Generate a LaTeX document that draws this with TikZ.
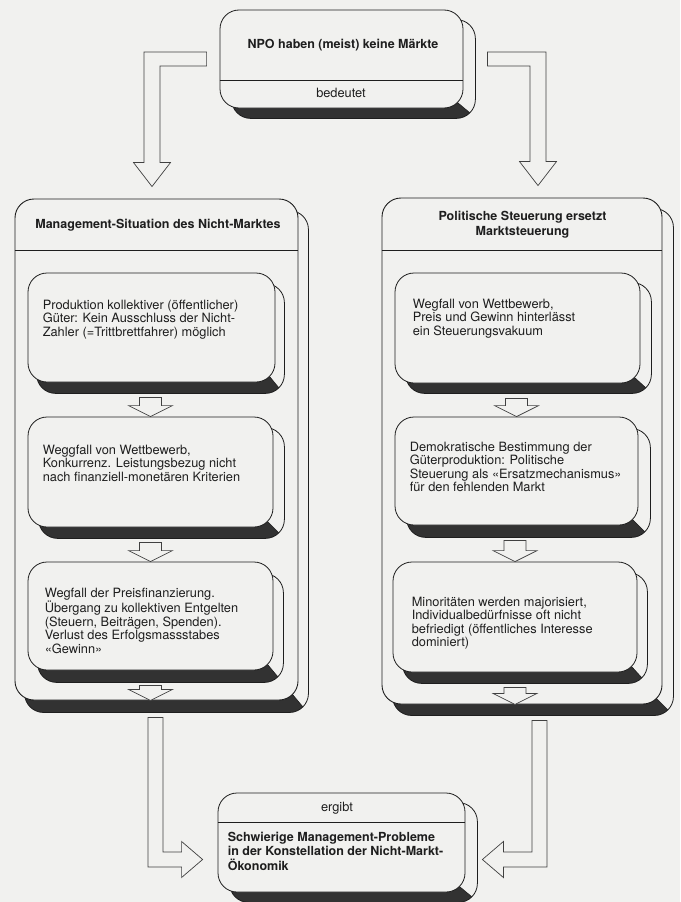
\documentclass[tikz,border=0pt]{standalone}
\usepackage{fontspec}
\setmainfont{TeX Gyre Heros}
\usetikzlibrary{positioning,calc}
\definecolor{paper}{RGB}{241,241,239}
\definecolor{ink}{RGB}{30,30,30}
\definecolor{band}{RGB}{50,50,50}
\pgfdeclarelayer{outerback}
\pgfdeclarelayer{outerfront}
\pgfdeclarelayer{innerback}
\pgfsetlayers{outerback,outerfront,innerback,main}
\tikzset{
  frame/.style={draw=ink, fill=paper, line width=0.8pt, rounded corners=19pt, inner sep=0pt},
  body/.style={anchor=north west, inner sep=0pt, align=left, text=ink, font=\fontsize{12.8}{13.5}\selectfont},
  head/.style={inner sep=0pt, align=center, text=ink, font=\bfseries\fontsize{12.5}{14.5}\selectfont},
  note/.style={inner sep=0pt, text=ink, font=\fontsize{12.8}{13.5}\selectfont},
  hollow/.style={draw=ink!85, fill=paper, line width=0.7pt, line join=miter},
  rim/.style={draw=ink, line width=0.8pt, rounded corners=19pt}
}
% back face of a box: node, dx, dy
\newcommand{\extrude}[3]{%
  \path[fill=paper, rounded corners=19pt] ([shift={(#2,#3)}]#1.north west) rectangle ([shift={(#2,#3)}]#1.south east);
  \begin{scope}
    \clip[rounded corners=19pt] ([shift={(#2,#3)}]#1.north west) rectangle ([shift={(#2,#3)}]#1.south east);
    \fill[band] ([shift={(0,-25)}]#1.south west) -- ([shift={(-5.6,-5.6)}]#1.south east)
      -- ([shift={(#2-5.6,#3-5.6)}]#1.south east) -- ([shift={(#2+5,#3+5)}]#1.south east)
      -- ([shift={(-5,#3+5)}]#1.south west) -- cycle;
  \end{scope}
  \path[rim] ([shift={(#2,#3)}]#1.north west) rectangle ([shift={(#2,#3)}]#1.south east);
  \draw[ink, line width=0.6pt] ([shift={(-5.6,-5.6)}]#1.south east) -- ([shift={(#2-5.6,#3-5.6)}]#1.south east);
}
% small hollow arrow from a box down to a point
\newcommand{\dropdown}[2]{%
  \coordinate (dd-tip) at (#2);
  \coordinate (dd-top) at (dd-tip |- #1.south);
  \draw[hollow] ($(dd-top)+(-11,15)$) -- ($(dd-tip)+(-11,-11)$) -- ($(dd-tip)+(-22,-11)$) -- (dd-tip)
    -- ($(dd-tip)+(22,-11)$) -- ($(dd-tip)+(11,-11)$) -- ($(dd-top)+(11,15)$) -- cycle;
}
\begin{document}
\begin{tikzpicture}[x=1pt, y=-1pt]
\useasboundingbox (0,0) rectangle (680,902);
\begin{pgfonlayer}{outerback}
  \fill[paper] (0,0) rectangle (680,902);
\end{pgfonlayer}

% large frames
\begin{pgfonlayer}{outerfront}
  \node[frame, line width=0.9pt, minimum width=283pt, minimum height=501pt] (BL) at (156.5,449.5) {};
  \node[frame, line width=0.9pt, minimum width=280pt, minimum height=506pt] (BR) at (522,451) {};
\end{pgfonlayer}
\begin{pgfonlayer}{outerback}
  \extrude{BL}{10}{12}
  \extrude{BR}{11}{11}
\end{pgfonlayer}

% boxes
\node[frame, minimum width=243pt, minimum height=98pt] (T) at (341.5,59) {};
\node[frame, minimum width=247pt, minimum height=109pt] (L1) at (151.5,327.5) {};
\node[frame, minimum width=245pt, minimum height=110pt] (L2) at (150.5,472) {};
\node[frame, minimum width=245pt, minimum height=108pt] (L3) at (150.5,616) {};
\node[frame, minimum width=245pt, minimum height=110pt] (R1) at (517.5,328) {};
\node[frame, minimum width=243pt, minimum height=108pt] (R2) at (516.5,471) {};
\node[frame, minimum width=244pt, minimum height=110pt] (R3) at (515,617) {};
\node[frame, minimum width=247pt, minimum height=99pt] (E) at (341.5,842.5) {};
\begin{pgfonlayer}{innerback}
  \extrude{T}{12}{10}
  \extrude{L1}{9}{11}
  \extrude{L2}{11}{11}
  \extrude{L3}{10}{12}
  \extrude{R1}{11}{10}
  \extrude{R2}{12}{12}
  \extrude{R3}{10}{11}
  \extrude{E}{12}{10}
\end{pgfonlayer}

% dividers
\coordinate (Tdiv) at (0,80);
\coordinate (BLdiv) at (0,250);
\coordinate (BRdiv) at (0,250);
\coordinate (Ediv) at (0,822);
\draw[ink, line width=0.8pt] (T.west |- Tdiv) -- (T.east |- Tdiv);
\draw[ink, line width=0.8pt] (BL.west |- BLdiv) -- (BL.east |- BLdiv);
\draw[ink, line width=0.8pt] (BR.west |- BRdiv) -- (BR.east |- BRdiv);
\draw[ink, line width=0.8pt] (E.west |- Ediv) -- (E.east |- Ediv);

% titles
\node[head] (Ttitle) at (343,45) {NPO haben (meist) keine Märkte};
\node[note] (Tverb) at (341,93) {bedeutet};
\node[head] (BLtitle) at (158,225) {Management-Situation des Nicht-Marktes};
\node[head] (BRtitle) at (522.5,224.5) {Politische Steuerung ersetzt\\Marktsteuerung};
\node[note] (Everb) at (337,808) {ergibt};

% texts
\node[body, below right=27pt and 15pt of L1.north west] (L1t) {Produktion kollektiver (öffentlicher)\\Güter: Kein Ausschluss der Nicht-\\Zahler (=Trittbrettfahrer) möglich};
\node[body, below right=28pt and 15pt of L2.north west] (L2t) {Weggfall von Wettbewerb,\\Konkurrenz. Leistungsbezug nicht\\nach finanziell-monetären Kriterien};
\node[body, below right=26pt and 17pt of L3.north west] (L3t) {Wegfall der Preisfinanzierung.\\Übergang zu kollektiven Entgelten\\(Steuern, Beiträgen, Spenden).\\Verlust des Erfolgsmassstabes\\«Gewinn»};
\node[body, below right=26pt and 18pt of R1.north west] (R1t) {Wegfall von Wettbewerb,\\Preis und Gewinn hinterlässt\\ein Steuerungsvakuum};
\node[body, below right=25pt and 15pt of R2.north west] (R2t) {Demokratische Bestimmung der\\Güterproduktion: Politische\\Steuerung als «Ersatzmechanismus»\\für den fehlenden Markt};
\node[body, below right=35pt and 19pt of R3.north west] (R3t) {Minoritäten werden majorisiert,\\Individualbedürfnisse oft nicht\\befriedigt (öffentliches Interesse\\dominiert)};
\node[body, font=\bfseries\fontsize{12.5}{14.5}\selectfont, below right=39pt and 10pt of E.north west] (Et) {Schwierige Management-Probleme\\in der Konstellation der Nicht-Markt-\\Ökonomik};

% small arrows
\dropdown{L1}{L2.north}
\dropdown{L2}{L3.north}
\dropdown{L3}{L3.south |- BL.south}
\dropdown{R1}{R2.north}
\dropdown{R2}{R3.north}
\dropdown{R3}{R3.south |- BR.south}

% bent arrows from the top box
\coordinate (tl-start) at ([xshift=-13pt]T.west);
\coordinate (tl-tip) at ([shift={(-4.5,-12)}]BL.north);
\coordinate (tl-bend) at (tl-tip |- tl-start);
\draw[hollow] ($(tl-start)+(0,-7)$) -- ($(tl-bend)+(-8,-7)$) -- ($(tl-tip)+(-8,-24)$) -- ($(tl-tip)+(-18.5,-24)$)
  -- (tl-tip) -- ($(tl-tip)+(18.5,-24)$) -- ($(tl-tip)+(8,-24)$) -- ($(tl-bend)+(8,7)$) -- ($(tl-start)+(0,7)$) -- cycle;
\coordinate (tr-start) at ([xshift=24pt]T.east);
\coordinate (tr-tip) at ([shift={(16,-12)}]BR.north);
\coordinate (tr-bend) at (tr-tip |- tr-start);
\draw[hollow] ($(tr-start)+(0,-7)$) -- ($(tr-bend)+(8,-7)$) -- ($(tr-tip)+(8,-24)$) -- ($(tr-tip)+(18.5,-24)$)
  -- (tr-tip) -- ($(tr-tip)+(-18.5,-24)$) -- ($(tr-tip)+(-8,-24)$) -- ($(tr-bend)+(-8,7)$) -- ($(tr-start)+(0,7)$) -- cycle;

% bent arrows into the result box
\coordinate (bl-start) at ([shift={(-1,17)}]BL.south);
\coordinate (bl-tip) at ([shift={(-15,17)}]E.west);
\coordinate (bl-bend) at (bl-start |- bl-tip);
\draw[hollow] ($(bl-start)+(-7.5,0)$) -- ($(bl-bend)+(-7.5,7.5)$) -- ($(bl-tip)+(-21,7.5)$) -- ($(bl-tip)+(-21,18)$)
  -- (bl-tip) -- ($(bl-tip)+(-21,-18)$) -- ($(bl-tip)+(-21,-7.5)$) -- ($(bl-bend)+(7.5,-7.5)$) -- ($(bl-start)+(7.5,0)$) -- cycle;
\coordinate (br-start) at ([shift={(17.5,16)}]BR.south);
\coordinate (br-tip) at ([shift={(17,17)}]E.east);
\coordinate (br-bend) at (br-start |- br-tip);
\draw[hollow] ($(br-start)+(7.5,0)$) -- ($(br-bend)+(7.5,7.5)$) -- ($(br-tip)+(21,7.5)$) -- ($(br-tip)+(21,18)$)
  -- (br-tip) -- ($(br-tip)+(21,-18)$) -- ($(br-tip)+(21,-7.5)$) -- ($(br-bend)+(-7.5,-7.5)$) -- ($(br-start)+(-7.5,0)$) -- cycle;
\end{tikzpicture}
\end{document}
